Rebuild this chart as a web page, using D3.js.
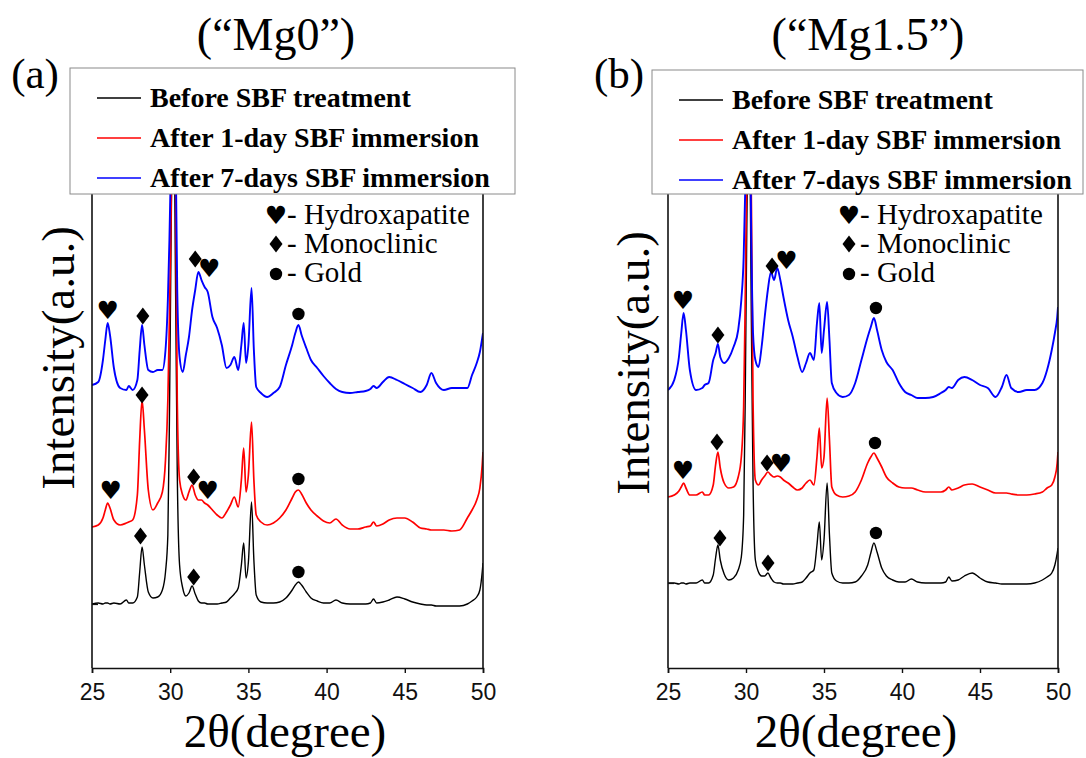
<!DOCTYPE html>
<html>
<head>
<meta charset="utf-8">
<script src="https://cdn.jsdelivr.net/npm/d3@7/dist/d3.min.js"></script>
<style>
  html, body { margin: 0; padding: 0; background: #ffffff; }
  svg { display: block; }
</style>
</head>
<body>
<svg id="chart" width="1086" height="758"></svg>
<script>
// ---------- DATA ----------
const angles = [
  25.0, 25.4, 25.7, 25.85, 26.0, 26.15, 26.4, 26.8, 27.2, 27.35,
  27.6, 27.9, 28.05, 28.2, 28.35, 28.6, 28.9, 29.2, 29.5, 29.7,
  29.85, 29.95, 30.05, 30.2, 30.35, 30.45, 30.6, 30.8, 31.0, 31.2,
  31.4, 31.6, 31.8, 32.0, 32.2, 32.4, 32.7, 33.0, 33.3, 33.6,
  33.85, 34.1, 34.35, 34.55, 34.7, 34.85, 35.0, 35.2, 35.35, 35.5,
  35.8, 36.2, 36.6, 37.0, 37.4, 37.8, 38.0, 38.2, 38.4, 38.7,
  39.0, 39.4, 39.8, 40.2, 40.6, 41.0, 41.5, 42.0, 42.5, 42.8,
  43.0, 43.2, 43.6, 44.0, 44.5, 45.0, 45.5, 46.0, 46.4, 46.7,
  47.0, 47.5, 48.0, 48.5, 49.0, 49.3, 49.6, 49.8, 49.95, 50.0
];

// Panel (a) "Mg0"
const mg0Before = [
  64, 65, 64, 65, 65, 64, 65, 64, 68, 65,
  65, 71, 96, 121, 103, 76, 70, 71, 78, 96,
  133, 248, 418, 600, 368, 198, 103, 80, 72, 75,
  82, 74, 67, 65, 65, 64, 64, 64, 65, 66,
  70, 74, 80, 103, 125, 90, 106, 166, 108, 73,
  66, 65, 65, 66, 70, 78, 83, 86, 83, 76,
  70, 67, 65, 65, 68, 65, 64, 64, 64, 65,
  69, 65, 66, 68, 71, 69, 66, 64, 63, 63,
  62, 62, 62, 62, 64, 67, 71, 78, 96, 105
];
const mg0Day1 = [
  141, 143, 150, 158, 165, 160, 148, 143, 145, 146,
  148, 173, 228, 268, 238, 178, 158, 165, 176, 208,
  268, 348, 448, 620, 488, 268, 188, 173, 168, 176,
  183, 173, 168, 168, 165, 163, 158, 153, 150, 156,
  163, 171, 161, 188, 220, 176, 193, 246, 188, 153,
  146, 143, 145, 150, 158, 170, 176, 178, 174, 165,
  158, 152, 147, 145, 149, 143, 139, 139, 141, 142,
  146, 142, 144, 148, 150, 150, 146, 140, 139, 138,
  138, 138, 137, 138, 150, 158, 168, 180, 203, 216
];
const mg0Day7 = [
  283, 286, 308, 328, 345, 333, 300, 280, 278, 282,
  278, 288, 318, 343, 323, 298, 296, 298, 298, 318,
  368, 428, 508, 608, 518, 378, 311, 296, 313, 331,
  358, 378, 396, 388, 381, 376, 351, 340, 323, 300,
  303, 311, 298, 323, 345, 305, 323, 380, 318, 281,
  275, 271, 275, 281, 303, 323, 335, 343, 333, 320,
  308, 300, 292, 285, 279, 276, 275, 276, 277, 279,
  282, 280, 286, 291, 288, 284, 280, 276, 283, 295,
  285, 278, 280, 280, 280, 293, 305, 316, 330, 335
];

// Panel (b) "Mg1.5"
const mg15Before = [
  85, 85, 84, 85, 85, 84, 85, 85, 88, 85,
  85, 93, 110, 123, 108, 94, 88, 90, 98, 111,
  153, 268, 438, 568, 338, 188, 108, 96, 92, 92,
  95, 90, 86, 85, 85, 84, 84, 84, 85, 86,
  90, 95, 98, 123, 146, 108, 128, 185, 133, 95,
  87, 85, 85, 86, 92, 103, 115, 125, 116, 100,
  92, 88, 86, 86, 89, 86, 85, 85, 85, 86,
  91, 87, 88, 92, 95, 90, 86, 85, 84, 84,
  84, 84, 84, 85, 88, 91, 95, 103, 115, 120
];
const mg15Day1 = [
  171, 173, 177, 181, 185, 180, 173, 173, 176, 173,
  173, 183, 203, 216, 200, 185, 180, 181, 191, 211,
  261, 368, 498, 598, 458, 268, 188, 183, 188, 192,
  196, 193, 191, 192, 191, 188, 185, 181, 178, 180,
  185, 188, 183, 211, 240, 200, 211, 270, 228, 181,
  173, 171, 172, 176, 188, 205, 211, 215, 210, 201,
  191, 185, 181, 180, 180, 178, 176, 176, 176, 178,
  181, 178, 180, 183, 184, 181, 178, 175, 175, 175,
  174, 173, 173, 174, 176, 180, 183, 191, 205, 216
];
const mg15Day7 = [
  278, 288, 311, 335, 355, 338, 298, 278, 280, 283,
  285, 308, 315, 324, 311, 305, 310, 321, 338, 368,
  411, 478, 568, 608, 418, 335, 308, 301, 321, 351,
  378, 396, 388, 400, 388, 371, 348, 331, 311, 296,
  305, 315, 308, 345, 365, 315, 338, 366, 328, 285,
  275, 271, 273, 285, 308, 331, 341, 350, 338, 318,
  306, 298, 285, 276, 273, 270, 270, 271, 275, 278,
  281, 280, 288, 291, 288, 283, 280, 271, 281, 293,
  280, 276, 278, 278, 285, 298, 318, 335, 351, 361
];

// Phase markers: [2θ, intensity, kind]  h = hydroxyapatite, d = monoclinic, c = gold
const mg0Markers = [
  [28.1, 132, "d"], [31.5, 91, "d"], [38.2, 96, "c"],
  [26.2, 178, "h"], [28.2, 273, "d"], [31.5, 191, "d"], [32.4, 178, "h"], [38.2, 189, "c"],
  [26.0, 358, "h"], [28.25, 352, "d"], [31.6, 409, "d"], [32.5, 400, "h"], [38.2, 354, "c"]
];
const mg15Markers = [
  [28.33, 130, "d"], [31.41, 105, "d"], [38.33, 135, "c"],
  [25.96, 198, "h"], [28.14, 226, "d"], [31.35, 205, "d"], [32.24, 205, "h"], [38.27, 225, "c"],
  [25.96, 368, "h"], [28.2, 333, "d"], [31.67, 402, "d"], [32.6, 408, "h"], [38.33, 360, "c"]
];

const xTicks = [25, 30, 35, 40, 45, 50];
const seriesNames = ["Before SBF treatment", "After 1-day SBF immersion", "After 7-days SBF immersion"];
const seriesColors = ["#000000", "#ff0000", "#0000ff"];
const phaseKinds = ["h", "d", "c"];
const phaseLabels = ["- Hydroxapatite", "- Monoclinic", "- Gold"];
const panelTitles = ["(\u201CMg0\u201D)", "(\u201CMg1.5\u201D)"];
const panelTags = ["(a)", "(b)"];
const xTitle = "2\u03B8(degree)";
const yTitle = "Intensity(a.u.)";

// ---------- LAYOUT ----------
const panels = [
  { series: [mg0Before, mg0Day1, mg0Day7], markers: mg0Markers, title: panelTitles[0], tag: panelTags[0],
    left: 92, right: 483, top: 193, bottom: 668, baseTick: 64,
    legend: { x: 70, y: 68, w: 445, h: 126 }, titleX: 276, tagX: 35,
    yLabelX: 74, yLabelY: 358, xTitleX: 285, insetX: 277 },
  { series: [mg15Before, mg15Day1, mg15Day7], markers: mg15Markers, title: panelTitles[1], tag: panelTags[1],
    left: 668, right: 1058, top: 193, bottom: 668, baseTick: 85,
    legend: { x: 652, y: 70, w: 431, h: 124 }, titleX: 868, tagX: 619,
    yLabelX: 649, yLabelY: 363, xTitleX: 856, insetX: 850 }
];

const svg = d3.select("#chart");
const serif = "'Liberation Serif', 'Times New Roman', serif";
const sans = "'Liberation Sans', Arial, sans-serif";
const diamondPath = "M0,-8.5L6.5,0L0,8.5L-6.5,0Z";

function drawMarker(sel, kind, cx, cy) {
  if (kind === "c") {
    sel.append("circle").attr("cx", cx).attr("cy", cy).attr("r", 6.2).attr("fill", "#000");
  } else if (kind === "d") {
    sel.append("path").attr("d", diamondPath)
      .attr("transform", `translate(${cx},${cy})`).attr("fill", "#000");
  } else {
    sel.append("text").attr("x", cx).attr("y", cy).attr("text-anchor", "middle")
      .attr("dominant-baseline", "central").attr("font-family", "'DejaVu Sans', sans-serif")
      .attr("font-size", 25).attr("fill", "#000").text("\u2665");
  }
}

panels.forEach((p, pi) => {
  const x = d3.scaleLinear().domain([25, 50]).range([p.left, p.right]);
  const y = d3.scaleLinear().domain([0, 475]).range([p.bottom, p.top]);
  const g = svg.append("g");

  const clipId = "clip" + pi;
  svg.append("clipPath").attr("id", clipId)
    .append("rect").attr("x", p.left).attr("y", p.top)
    .attr("width", p.right - p.left).attr("height", p.bottom - p.top);

  // curves
  const line = d3.line().curve(d3.curveMonotoneX).x((d, i) => x(angles[i])).y(d => y(d));
  const lines = g.append("g").attr("clip-path", `url(#${clipId})`);
  p.series.forEach((s, si) => {
    lines.append("path").datum(s)
      .attr("d", line)
      .attr("fill", "none")
      .attr("stroke", seriesColors[si])
      .attr("stroke-width", [1.4, 1.7, 1.9][si])
      .attr("stroke-linejoin", "round");
  });

  // frame (left, right, bottom)
  g.append("line").attr("x1", p.left).attr("x2", p.left).attr("y1", p.top - 5).attr("y2", p.bottom)
    .attr("stroke", "#111").attr("stroke-width", 1.6);
  g.append("line").attr("x1", p.right).attr("x2", p.right).attr("y1", p.top - 5).attr("y2", p.bottom)
    .attr("stroke", "#111").attr("stroke-width", 1.6);

  const xAxis = g.append("g").attr("transform", `translate(0,${p.bottom})`)
    .call(d3.axisBottom(x).tickValues(xTicks).tickSize(5).tickPadding(11).tickFormat(d3.format("d")));
  xAxis.select(".domain").attr("stroke", "#111").attr("stroke-width", 1.6);
  xAxis.selectAll(".tick line").attr("stroke", "#111").attr("stroke-width", 1.4);
  xAxis.selectAll(".tick text").attr("font-family", sans).attr("font-size", 23).attr("fill", "#111");

  // small inward tick on left axis at baseline of bottom pattern
  const yAxis = g.append("g").attr("transform", `translate(${p.left},0)`)
    .call(d3.axisRight(y).tickValues([p.baseTick]).tickSize(6).tickFormat(""));
  yAxis.select(".domain").remove();
  yAxis.selectAll(".tick line").attr("stroke", "#111").attr("stroke-width", 1.2);

  // phase markers
  const mk = g.append("g");
  p.markers.forEach(m => drawMarker(mk, m[2], x(m[0]), y(m[1])));

  // phase inset legend
  phaseKinds.forEach((k, ki) => {
    const cy = 215 + ki * 29;
    drawMarker(g, k, p.insetX - 1, cy + (k === "c" ? 1 : 0));
    g.append("text").attr("x", p.insetX + 10).attr("y", cy + 9)
      .attr("font-family", serif).attr("font-size", 29).attr("fill", "#000")
      .text(phaseLabels[ki]);
  });

  // series legend box
  const L = p.legend;
  g.append("rect").attr("x", L.x).attr("y", L.y).attr("width", L.w).attr("height", L.h)
    .attr("fill", "#fff").attr("stroke", "#8a8a8a").attr("stroke-width", 1);
  seriesNames.forEach((n, si) => {
    const ry = L.y + 30 + si * 40;
    g.append("line").attr("x1", L.x + 27).attr("x2", L.x + 71).attr("y1", ry).attr("y2", ry)
      .attr("stroke", seriesColors[si]).attr("stroke-width", 1.4);
    g.append("text").attr("x", L.x + 80).attr("y", ry + 9)
      .attr("font-family", serif).attr("font-weight", "bold").attr("font-size", 28)
      .attr("fill", "#000").text(n);
  });

  // titles
  g.append("text").attr("x", p.titleX).attr("y", 50).attr("text-anchor", "middle")
    .attr("font-family", serif).attr("font-size", 46).attr("fill", "#000").text(p.title);
  g.append("text").attr("x", p.tagX).attr("y", 88).attr("text-anchor", "middle")
    .attr("font-family", serif).attr("font-size", 43).attr("fill", "#000").text(p.tag);
  g.append("text").attr("x", p.xTitleX).attr("y", 747).attr("text-anchor", "middle")
    .attr("font-family", serif).attr("font-size", 47).attr("fill", "#000").text(xTitle);
  g.append("text").attr("transform", `translate(${p.yLabelX},${p.yLabelY}) rotate(-90)`)
    .attr("text-anchor", "middle")
    .attr("font-family", serif).attr("font-size", 47).attr("fill", "#000").text(yTitle);
});
</script>
</body>
</html>
